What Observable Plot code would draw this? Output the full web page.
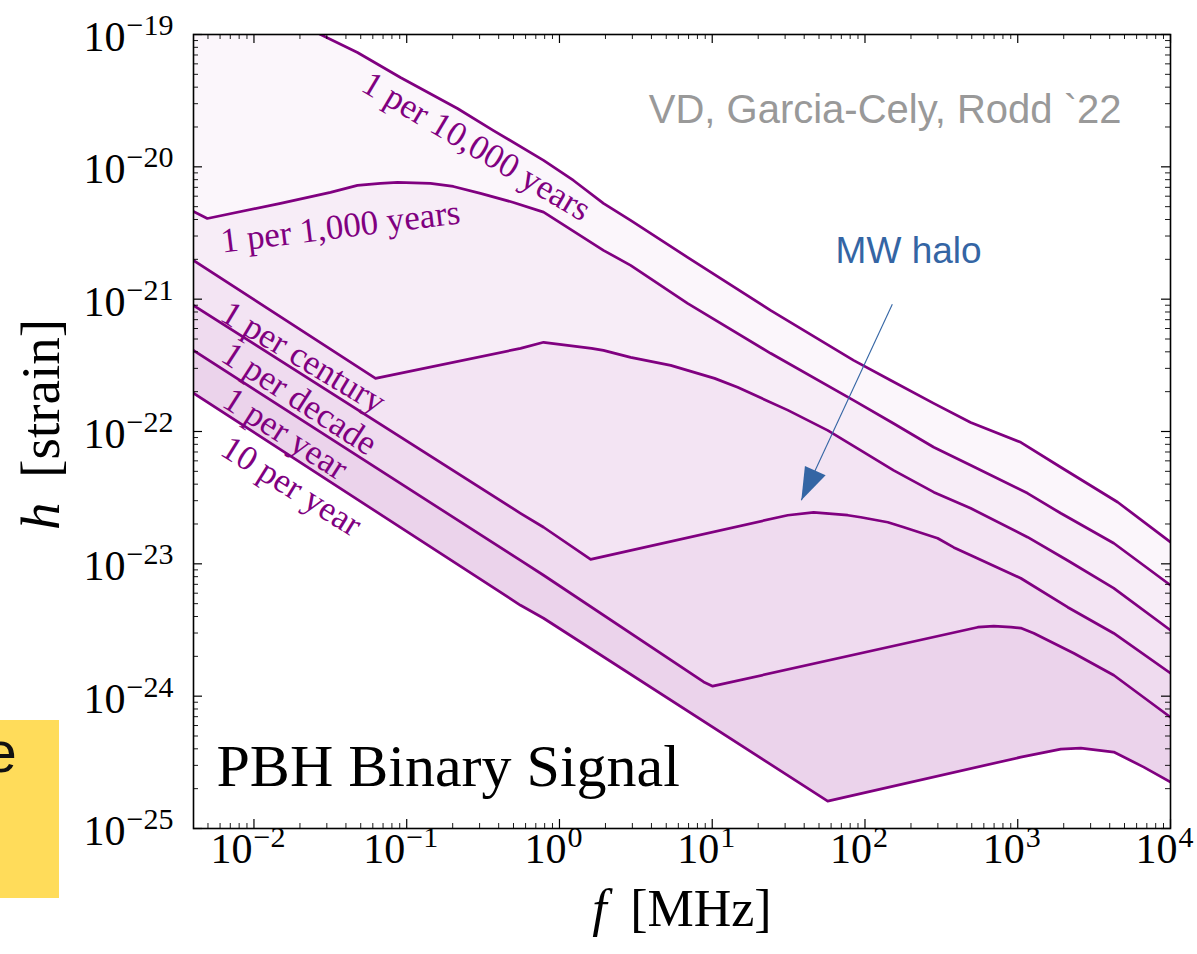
<!DOCTYPE html>
<html><head><meta charset="utf-8">
<script src="https://cdn.jsdelivr.net/npm/d3@7"></script>
<script src="https://cdn.jsdelivr.net/npm/@observablehq/plot@0.6"></script>
<style>
html,body{margin:0;padding:0;background:#fff;}
#wrap{position:relative;width:1197px;height:954px;overflow:hidden;background:#fff;}
#wrap svg{position:absolute;left:0;top:0;}
#note{position:absolute;left:0;top:720px;width:59px;height:178px;background:#ffdc5a;overflow:hidden;z-index:2;}
#note span{position:absolute;left:-15px;top:4px;font-size:57px;font-family:"Liberation Sans",Arial,sans-serif;line-height:1;color:#111;}
</style></head>
<body><div id="wrap"><div id="note"><span>e</span></div></div>
<script>
// ---------- data ----------
const xDomain = [4.02e-3, 1e4];
const yDomain = [1e-25, 1e-19];
const xMajor = [1e-2, 1e-1, 1e0, 1e1, 1e2, 1e3, 1e4];
const yMajor = [1e-25, 1e-24, 1e-23, 1e-22, 1e-21, 1e-20, 1e-19];

const rateNames = ["1 per 10,000 years", "1 per 1,000 years", "1 per century", "1 per decade", "1 per year", "10 per year"];

// 1 per 10,000 years
const fA = [0.00402, 0.0273, 0.0476, 0.0910, 0.215, 0.370, 0.787, 1.236, 1.941, 2.924, 6.90, 24.1, 84.3, 147, 282, 492, 1047, 1914, 4519, 10000];
const hA = [3.38e-19, 1.0e-19, 7.31e-20, 4.73e-20, 2.76e-20, 1.88e-20, 1.12e-20, 7.89e-21, 5.30e-21, 3.94e-21, 2.07e-21, 8.22e-22, 3.45e-22, 2.44e-22, 1.63e-22, 1.17e-22, 8.28e-23, 5.37e-23, 2.92e-23, 1.46e-23];
// 1 per 1,000 years
const fB = [0.00402, 0.00495, 0.01493, 0.0317, 0.0476, 0.0673, 0.0871, 0.143, 0.202, 0.304, 0.500, 0.787, 1.941, 2.924, 6.90, 24.1, 84.3, 154, 282, 492, 1161, 1914, 4256, 10000];
const hB = [4.60e-21, 4.07e-21, 5.30e-21, 6.41e-21, 7.24e-21, 7.50e-21, 7.62e-21, 7.50e-21, 7.11e-21, 6.30e-21, 5.38e-21, 4.55e-21, 2.34e-21, 1.80e-21, 9.29e-22, 3.90e-22, 1.72e-22, 1.15e-22, 7.60e-23, 5.56e-23, 3.41e-23, 2.41e-23, 1.43e-23, 6.89e-24];
// 1 per century
const fC = [0.00402, 0.0625, 0.556, 0.787, 1.622, 1.941, 2.924, 5.35, 10.37, 14.66, 31.2, 57.0, 93.8, 154, 282, 492, 1161, 2123, 4246, 10000];
const hC = [1.96e-21, 2.52e-22, 4.25e-22, 4.72e-22, 4.25e-22, 4.10e-22, 3.63e-22, 3.16e-22, 2.52e-22, 2.16e-22, 1.45e-22, 1.02e-22, 7.21e-23, 5.09e-23, 3.48e-23, 2.63e-23, 1.59e-23, 1.06e-23, 6.55e-24, 3.15e-24];
// 1 per decade
const fD = [0.00402, 0.556, 0.787, 1.600, 31.2, 46.1, 77.1, 93.8, 141, 179.5, 299, 381, 492, 1047, 2123, 4246, 10000];
const hD = [8.97e-22, 2.41e-23, 1.89e-23, 1.08e-23, 2.33e-23, 2.45e-23, 2.33e-23, 2.25e-23, 2.06e-23, 1.89e-23, 1.56e-23, 1.33e-23, 1.16e-23, 7.78e-24, 4.70e-24, 2.99e-24, 1.49e-24];
// 1 per year
const fE = [0.00402, 0.556, 0.787, 8.79, 10.07, 548, 697, 902, 1047, 1274, 2328, 4256, 10000];
const hE = [4.10e-22, 1.06e-23, 8.20e-24, 1.28e-24, 1.19e-24, 3.32e-24, 3.38e-24, 3.32e-24, 3.27e-24, 2.99e-24, 2.11e-24, 1.44e-24, 6.93e-25];
// 10 per year
const fF = [0.00402, 0.556, 0.787, 57.0, 1047, 1914, 2588, 4256, 6683, 10000];
const hF = [1.95e-22, 4.86e-24, 3.88e-24, 1.61e-25, 3.46e-25, 3.98e-25, 4.05e-25, 3.78e-25, 2.91e-25, 2.24e-25];

// curve labels
const labelF = [0.286, 0.0368, 0.0211, 0.01986, 0.01607, 0.01762];
const labelH = [1.43e-20, 3.52e-21, 3.63e-22, 1.77e-22, 9.61e-23, 3.86e-23];
const labelAngle = [30.7, -7, 31, 33, 32.6, 32];

// annotations
const haloText = "MW halo";
const haloF = 193, haloH = 2.32e-21;
const arrowStart = {f: 151, h: 9.14e-22};
const arrowTip = {f: 38.3, h: 3.02e-23};
const creditText = "VD, Garcia-Cely, Rodd `22";
const panelText = "PBH Binary Signal";
const xTitle = ["f", " [MHz]"];
const yTitle = ["h", " [strain]"];

// ---------- build ----------
const W = 1197, H = 954, mL = 193, mR = 27, mT = 34, mB = 126;
const fw = W - mL - mR, fh = H - mT - mB;
const SERIF = "'Liberation Serif', 'Times New Roman', serif";
const SANS = "'Liberation Sans', Arial, sans-serif";
const PURPLE = "#800080", BLUE = "#3465a4";

const series = [[fA, hA], [fB, hB], [fC, hC], [fD, hD], [fE, hE], [fF, hF]];
const pts = ([fs, hs]) => fs.map((f, i) => ({f, h: hs[i]}));
const curves = series.map(pts);
const bottom = curves[5];

const xMinor = [], yMinor = [];
for (let e = -3; e < 4; e++) for (let k = 2; k < 10; k++) { const v = k * 10 ** e; if (v > xDomain[0] && v < xDomain[1]) xMinor.push(v); }
for (let e = -25; e < -19; e++) for (let k = 2; k < 10; k++) yMinor.push(k * 10 ** e);

const labels = rateNames.map((t, i) => ({t, f: labelF[i], h: labelH[i], r: labelAngle[i]}));
const fmt = d => "10^" + Math.round(Math.log10(d));

const headSymbol = {draw(ctx) { ctx.moveTo(0, 0); ctx.lineTo(3.6, -34.3); ctx.lineTo(24.3, -25); ctx.closePath(); }};

const marks = [];
// stacked translucent fills: each rate curve down to the 10-per-year curve
curves.slice(0, 5).forEach(c => {
  marks.push(Plot.line([...c, ...bottom.slice().reverse()], {x: "f", y: "h", fill: PURPLE, fillOpacity: 0.034, stroke: "none", clip: true}));
});
curves.forEach(c => marks.push(Plot.line(c, {x: "f", y: "h", stroke: PURPLE, strokeWidth: 2.7, clip: true})));
marks.push(Plot.text(labels, {x: "f", y: "h", text: "t", rotate: "r", fill: PURPLE, fontSize: 35, fontFamily: SERIF}));
// arrow
marks.push(Plot.link([{a: arrowStart, b: arrowTip}], {x1: d => d.a.f, y1: d => d.a.h, x2: d => d.b.f, y2: d => d.b.h, stroke: BLUE, strokeWidth: 1.1}));
marks.push(Plot.dot([arrowTip], {x: "f", y: "h", symbol: headSymbol, fill: BLUE, stroke: "none"}));
marks.push(Plot.text([haloText], {x: () => haloF, y: () => haloH, text: d => d, fill: BLUE, fontSize: 37, fontFamily: SANS}));
marks.push(Plot.text([creditText], {frameAnchor: "top-right", textAnchor: "end", dx: -49, dy: 60, text: d => d, fill: "#999999", fontSize: 40, fontFamily: SANS}));
marks.push(Plot.text([panelText], {frameAnchor: "bottom-left", textAnchor: "start", dx: 23, dy: -43, text: d => d, fill: "black", fontSize: 60, fontFamily: SERIF}));
// inward ticks on all four sides
const tk = w => ({stroke: "black", strokeWidth: w});
marks.push(Plot.ruleX(xMajor, {x: d => d, insetTop: fh - 9, ...tk(1.2)}));
marks.push(Plot.ruleX(xMajor, {x: d => d, insetBottom: fh - 9, ...tk(1.2)}));
marks.push(Plot.ruleX(xMinor, {x: d => d, insetTop: fh - 5, ...tk(0.9)}));
marks.push(Plot.ruleX(xMinor, {x: d => d, insetBottom: fh - 5, ...tk(0.9)}));
marks.push(Plot.ruleY(yMajor, {y: d => d, insetRight: fw - 9, ...tk(1.2)}));
marks.push(Plot.ruleY(yMajor, {y: d => d, insetLeft: fw - 9, ...tk(1.2)}));
marks.push(Plot.ruleY(yMinor, {y: d => d, insetRight: fw - 5, ...tk(0.9)}));
marks.push(Plot.ruleY(yMinor, {y: d => d, insetLeft: fw - 5, ...tk(0.9)}));
marks.push(Plot.frame({stroke: "black", strokeWidth: 1.6}));
// tick labels
marks.push(Plot.text(xMajor, {x: d => d, text: fmt, frameAnchor: "bottom", textAnchor: "middle", dx: -6, dy: 34, fontSize: 42, fill: "black", fontFamily: SERIF}));
marks.push(Plot.text(yMajor, {y: d => d, text: fmt, frameAnchor: "left", textAnchor: "end", dx: -20, dy: 3, fontSize: 42, fill: "black", fontFamily: SERIF}));
// axis titles
marks.push(Plot.text([yTitle.join("")], {frameAnchor: "left", textAnchor: "middle", dx: -152, dy: -7, rotate: -90, text: d => d, fontSize: 55, fill: "black", fontFamily: SERIF}));
marks.push(Plot.text([xTitle.join("")], {frameAnchor: "bottom", textAnchor: "middle", dy: 97, text: d => d, fontSize: 52, fill: "black", fontFamily: SERIF}));

const svg = Plot.plot({
  width: W, height: H,
  marginLeft: mL, marginRight: mR, marginTop: mT, marginBottom: mB,
  x: {type: "log", domain: xDomain, axis: null},
  y: {type: "log", domain: yDomain, axis: null},
  style: {fontFamily: SERIF, background: "white", color: "black"},
  marks
});

// post-process: superscripts and italic symbols (still real text)
const NS = "http://www.w3.org/2000/svg";
const span = (txt, attrs = {}) => { const s = document.createElementNS(NS, "tspan"); s.textContent = txt; for (const k in attrs) s.setAttribute(k, attrs[k]); return s; };
svg.querySelectorAll("text").forEach(t => {
  const s = t.textContent;
  const m = s.match(/^10\^(-?\d+)$/);
  if (m) {
    t.textContent = "";
    t.appendChild(span("10"));
    t.appendChild(span(m[1].replace("-", "\u2212"), {"font-size": 30, dy: -16, dx: 1}));
  } else if (s === yTitle.join("") || s === xTitle.join("")) {
    const parts = s === yTitle.join("") ? yTitle : xTitle;
    t.textContent = "";
    t.appendChild(span(parts[0], {"font-style": "italic"}));
    t.appendChild(span("\u00a0\u2009" + parts[1].trim()));
  }
});
document.getElementById("wrap").appendChild(svg);
</script></body></html>
